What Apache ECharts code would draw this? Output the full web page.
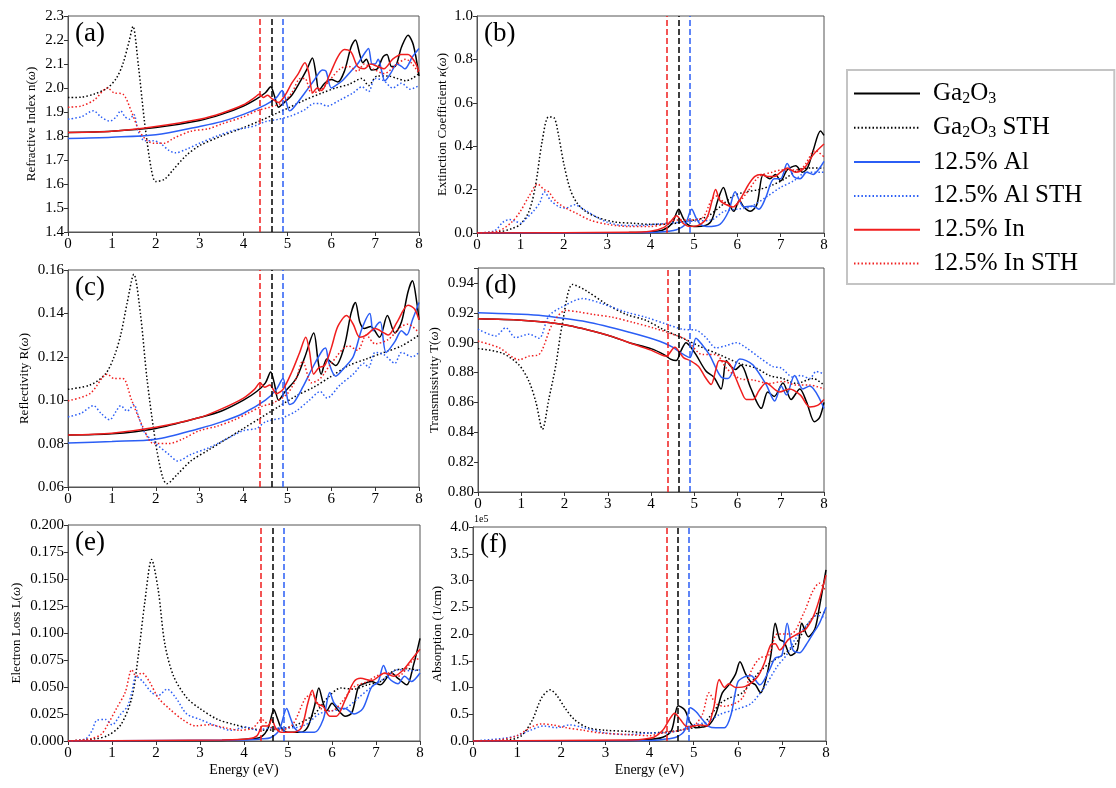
<!DOCTYPE html>
<html>
<head>
<meta charset="utf-8">
<script src="https://cdn.jsdelivr.net/npm/echarts@6/dist/echarts.min.js"></script>
<style>
  html, body { margin: 0; padding: 0; background: #fff; }
  #main { width: 1116px; height: 788px; }
</style>
</head>
<body>
<div id="main"></div>
<script>
// series names, in drawing order (red ends up on top)
var names = ['Ga2O3', 'Ga2O3 STH', '12.5% Al', '12.5% Al STH', '12.5% In', '12.5% In STH'];
var colors = ['#000000', '#000000', '#2b5ef5', '#2b5ef5', '#f01e1e', '#f01e1e'];
var dotted = [false, true, false, true, false, true];

// band gap markers (eV): In, Ga2O3, Al
var gapE = [4.38, 4.65, 4.9];
var gapColors = ['#f01e1e', '#000000', '#2b5ef5'];

// axis ticks
var xTicks = [0, 8, 1];
var yMin = [1.4, 0, 0.06, 0.80, 0, 0];
var yMax = [2.3, 1.0, 0.16, 0.95, 0.2, 4.0];
var yStep = [0.1, 0.2, 0.02, 0.02, 0.025, 0.5];
var yDigits = [1, 1, 2, 2, 3, 1];

// (a) refractive index n
var n_Ga = [[0,1.815],[1,1.82],[2,1.835],[3,1.865],[3.5,1.89],[4,1.925],[4.3,1.955],[4.5,1.98],[4.62,2.005],[4.7,1.97],[4.8,1.92],[4.9,1.935],[5.1,1.97],[5.3,2.03],[5.45,2.08],[5.57,2.125],[5.65,2.06],[5.72,1.99],[5.85,2.02],[6.0,2.035],[6.15,2.025],[6.3,2.07],[6.45,2.17],[6.55,2.2],[6.65,2.14],[6.72,2.105],[6.8,2.12],[6.92,2.075],[7.05,2.08],[7.18,2.13],[7.27,2.14],[7.37,2.09],[7.45,2.09],[7.6,2.17],[7.75,2.22],[7.87,2.18],[8,2.05]];
var n_GaSTH = [[0,1.96],[0.3,1.962],[0.6,1.975],[0.9,2.0],[1.1,2.04],[1.25,2.1],[1.4,2.2],[1.48,2.257],[1.6,2.1],[1.75,1.85],[1.9,1.66],[2.0,1.61],[2.2,1.62],[2.4,1.66],[2.7,1.72],[3.0,1.76],[3.5,1.8],[4.0,1.835],[4.4,1.865],[4.7,1.89],[5.0,1.915],[5.4,1.95],[5.8,1.98],[6.1,2.0],[6.4,2.015],[6.7,2.04],[6.85,2.01],[7.05,2.05],[7.3,2.05],[7.5,2.04],[7.7,2.03],[7.85,2.04],[8,2.06]];
var n_Al = [[0,1.79],[1,1.795],[2,1.805],[3,1.84],[3.5,1.86],[4,1.89],[4.5,1.93],[4.75,1.96],[4.88,1.99],[4.95,1.96],[5.05,1.905],[5.15,1.92],[5.4,1.98],[5.6,2.03],[5.8,2.075],[5.88,2.07],[6.0,2.0],[6.1,2.01],[6.25,2.03],[6.45,2.07],[6.6,2.1],[6.78,2.15],[6.85,2.165],[6.93,2.1],[7.0,2.1],[7.07,2.12],[7.15,2.07],[7.22,2.03],[7.35,2.06],[7.5,2.1],[7.6,2.09],[7.68,2.08],[7.85,2.13],[8,2.165]];
var n_AlSTH = [[0,1.87],[0.3,1.88],[0.58,1.905],[0.75,1.88],[0.95,1.862],[1.1,1.88],[1.2,1.905],[1.3,1.88],[1.4,1.87],[1.5,1.89],[1.6,1.82],[1.75,1.78],[1.95,1.78],[2.1,1.77],[2.3,1.74],[2.45,1.73],[2.7,1.745],[3.0,1.77],[3.4,1.8],[3.8,1.825],[4.1,1.835],[4.3,1.845],[4.5,1.86],[4.8,1.87],[5.1,1.885],[5.4,1.91],[5.6,1.935],[5.75,1.935],[5.9,1.925],[6.2,1.95],[6.5,1.98],[6.7,2.005],[6.85,1.985],[7.0,2.04],[7.2,2.03],[7.4,2.0],[7.6,2.02],[7.8,1.995],[8,2.01]];
var n_In = [[0,1.815],[1,1.82],[2,1.84],[3,1.87],[3.5,1.895],[4,1.93],[4.25,1.96],[4.37,1.975],[4.45,1.96],[4.55,1.97],[4.65,1.955],[4.8,1.94],[4.95,1.97],[5.1,2.02],[5.25,2.06],[5.4,2.105],[5.48,2.07],[5.58,1.98],[5.68,2.0],[5.78,1.99],[5.95,2.05],[6.15,2.13],[6.3,2.16],[6.45,2.15],[6.6,2.09],[6.75,2.08],[6.9,2.1],[7.05,2.09],[7.2,2.08],[7.4,2.12],[7.6,2.14],[7.75,2.14],[7.9,2.11],[8,2.07]];
var n_InSTH = [[0,1.92],[0.3,1.925],[0.6,1.95],[0.9,2.0],[1.05,1.98],[1.25,1.975],[1.45,1.9],[1.6,1.83],[1.75,1.79],[1.95,1.77],[2.2,1.77],[2.4,1.79],[2.8,1.82],[3.2,1.83],[3.5,1.85],[4.0,1.88],[4.3,1.905],[4.6,1.92],[4.9,1.94],[5.1,1.98],[5.3,2.04],[5.4,2.04],[5.55,1.98],[5.75,1.99],[6.0,2.04],[6.2,2.08],[6.4,2.09],[6.6,2.07],[6.75,2.1],[6.95,2.08],[7.2,2.06],[7.5,2.1],[7.7,2.12],[7.85,2.1],[8,2.06]];

// (b) extinction coefficient k
var k_Ga = [[0,0],[3.5,0.002],[4.0,0.005],[4.3,0.015],[4.5,0.045],[4.65,0.11],[4.75,0.07],[4.85,0.04],[5.0,0.03],[5.2,0.032],[5.4,0.055],[5.55,0.15],[5.68,0.21],[5.8,0.14],[5.92,0.1],[6.05,0.15],[6.15,0.12],[6.3,0.1],[6.45,0.13],[6.6,0.27],[6.75,0.25],[6.88,0.27],[7.0,0.24],[7.15,0.29],[7.35,0.31],[7.5,0.28],[7.62,0.3],[7.75,0.38],[7.92,0.47],[8,0.45]];
var k_GaSTH = [[0,0],[0.5,0.005],[0.8,0.02],[1.0,0.04],[1.2,0.1],[1.35,0.22],[1.5,0.42],[1.65,0.535],[1.78,0.53],[1.88,0.45],[2.0,0.32],[2.15,0.2],[2.3,0.14],[2.5,0.1],[2.8,0.07],[3.2,0.05],[3.6,0.045],[4.0,0.04],[4.4,0.04],[4.7,0.05],[5.0,0.06],[5.3,0.075],[5.6,0.12],[5.9,0.17],[6.2,0.19],[6.5,0.2],[6.8,0.22],[7.1,0.25],[7.4,0.29],[7.7,0.3],[8,0.3]];
var k_Al = [[0,0],[4.0,0.002],[4.4,0.008],[4.6,0.015],[4.8,0.04],[4.95,0.11],[5.05,0.07],[5.15,0.04],[5.3,0.03],[5.6,0.04],[5.8,0.1],[5.95,0.19],[6.05,0.15],[6.15,0.12],[6.35,0.125],[6.5,0.11],[6.65,0.16],[6.85,0.25],[7.0,0.25],[7.15,0.32],[7.3,0.26],[7.45,0.25],[7.6,0.28],[7.75,0.27],[7.9,0.3],[8,0.33]];
var k_AlSTH = [[0,0],[0.4,0.01],[0.6,0.05],[0.75,0.062],[0.88,0.055],[1.0,0.045],[1.15,0.07],[1.3,0.1],[1.45,0.14],[1.55,0.19],[1.7,0.15],[1.9,0.12],[2.05,0.115],[2.25,0.13],[2.45,0.11],[2.7,0.08],[3.0,0.05],[3.4,0.035],[3.8,0.035],[4.1,0.04],[4.4,0.045],[4.7,0.05],[5.0,0.055],[5.4,0.06],[5.7,0.1],[6.0,0.11],[6.3,0.12],[6.7,0.17],[7.0,0.21],[7.3,0.24],[7.6,0.28],[8,0.28]];
var k_In = [[0,0],[3.5,0.003],[4.0,0.008],[4.3,0.025],[4.45,0.05],[4.6,0.08],[4.75,0.045],[4.9,0.03],[5.1,0.035],[5.3,0.07],[5.42,0.15],[5.5,0.2],[5.6,0.15],[5.75,0.13],[5.9,0.12],[6.05,0.15],[6.25,0.22],[6.4,0.26],[6.55,0.27],[6.7,0.26],[6.85,0.26],[7.0,0.28],[7.15,0.3],[7.35,0.28],[7.55,0.3],[7.75,0.36],[8,0.41]];
var k_InSTH = [[0,0],[0.5,0.01],[0.8,0.05],[1.0,0.1],[1.2,0.17],[1.4,0.225],[1.55,0.2],[1.65,0.19],[1.8,0.15],[2.0,0.12],[2.3,0.09],[2.6,0.06],[3.0,0.04],[3.5,0.03],[4.0,0.03],[4.3,0.04],[4.6,0.06],[4.9,0.06],[5.2,0.07],[5.4,0.15],[5.52,0.17],[5.7,0.14],[5.9,0.12],[6.2,0.18],[6.5,0.26],[6.8,0.28],[7.0,0.29],[7.2,0.29],[7.5,0.3],[7.8,0.38],[8,0.35]];

// (c) reflectivity R
var R_Ga = [[0,0.084],[1,0.0845],[2,0.087],[3,0.092],[3.5,0.095],[4,0.1],[4.3,0.104],[4.5,0.108],[4.62,0.113],[4.7,0.108],[4.8,0.1],[4.95,0.104],[5.2,0.11],[5.4,0.12],[5.6,0.131],[5.7,0.118],[5.77,0.112],[5.9,0.119],[6.1,0.116],[6.3,0.125],[6.45,0.14],[6.55,0.145],[6.65,0.136],[6.75,0.133],[6.9,0.134],[7.1,0.129],[7.28,0.139],[7.45,0.131],[7.6,0.136],[7.75,0.15],[7.85,0.155],[7.95,0.145],[8,0.137]];
var R_GaSTH = [[0,0.105],[0.5,0.107],[0.85,0.112],[1.05,0.12],[1.2,0.13],[1.35,0.145],[1.5,0.158],[1.65,0.14],[1.8,0.11],[2.0,0.08],[2.15,0.065],[2.25,0.0615],[2.5,0.066],[2.8,0.072],[3.2,0.077],[3.6,0.082],[4.0,0.087],[4.4,0.092],[4.8,0.097],[5.2,0.102],[5.6,0.106],[6.0,0.111],[6.4,0.116],[6.8,0.119],[7.2,0.122],[7.6,0.125],[8,0.13]];
var R_Al = [[0,0.0803],[1,0.081],[2,0.082],[3,0.087],[3.5,0.09],[4,0.094],[4.5,0.1],[4.75,0.105],[4.9,0.11],[4.97,0.104],[5.05,0.098],[5.15,0.099],[5.35,0.106],[5.6,0.116],[5.8,0.123],[5.87,0.124],[5.95,0.117],[6.1,0.111],[6.3,0.115],[6.5,0.12],[6.7,0.133],[6.88,0.14],[6.95,0.132],[7.05,0.135],[7.12,0.136],[7.25,0.122],[7.45,0.127],[7.6,0.132],[7.72,0.13],[7.85,0.137],[8,0.145]];
var R_AlSTH = [[0,0.0923],[0.3,0.094],[0.58,0.0975],[0.75,0.094],[0.95,0.091],[1.1,0.095],[1.2,0.0975],[1.35,0.095],[1.5,0.098],[1.6,0.093],[1.75,0.085],[2.0,0.08],[2.3,0.075],[2.5,0.072],[2.8,0.075],[3.2,0.078],[3.6,0.082],[4.0,0.086],[4.3,0.087],[4.5,0.09],[4.9,0.092],[5.2,0.095],[5.5,0.1],[5.75,0.104],[5.9,0.101],[6.2,0.107],[6.5,0.112],[6.75,0.117],[6.85,0.115],[7.0,0.122],[7.2,0.121],[7.45,0.117],[7.6,0.122],[7.85,0.12],[8,0.122]];
var R_In = [[0,0.084],[1,0.0848],[2,0.0875],[3,0.092],[3.5,0.096],[4,0.101],[4.25,0.105],[4.38,0.108],[4.48,0.106],[4.6,0.107],[4.75,0.103],[4.9,0.105],[5.1,0.113],[5.28,0.122],[5.42,0.129],[5.5,0.123],[5.6,0.112],[5.72,0.115],[5.85,0.116],[6.0,0.124],[6.15,0.134],[6.35,0.139],[6.5,0.135],[6.65,0.129],[6.8,0.13],[7.0,0.133],[7.2,0.131],[7.3,0.13],[7.5,0.136],[7.75,0.1438],[7.9,0.142],[8,0.137]];
var R_InSTH = [[0,0.0997],[0.5,0.103],[0.9,0.112],[1.05,0.11],[1.25,0.11],[1.45,0.1],[1.7,0.088],[1.95,0.08],[2.3,0.08],[2.6,0.082],[3.0,0.086],[3.4,0.088],[3.8,0.091],[4.1,0.094],[4.4,0.097],[4.7,0.099],[5.0,0.103],[5.2,0.11],[5.35,0.118],[5.55,0.108],[5.75,0.11],[6.0,0.117],[6.4,0.125],[6.6,0.123],[6.8,0.13],[7.0,0.126],[7.3,0.128],[7.6,0.134],[7.75,0.135],[8,0.131]];

// (d) transmissivity T
var T_Ga = [[0,0.916],[1,0.915],[2,0.912],[3,0.905],[3.5,0.9],[4,0.896],[4.3,0.892],[4.45,0.889],[4.58,0.888],[4.7,0.895],[4.81,0.9],[4.92,0.897],[5.04,0.892],[5.27,0.881],[5.45,0.877],[5.62,0.869],[5.74,0.888],[5.85,0.884],[5.95,0.882],[6.08,0.885],[6.3,0.87],[6.55,0.856],[6.7,0.867],[6.85,0.864],[7.05,0.873],[7.24,0.862],[7.44,0.869],[7.6,0.86],[7.78,0.847],[7.9,0.85],[8,0.86]];
var T_GaSTH = [[0,0.896],[0.56,0.893],[0.95,0.885],[1.18,0.874],[1.34,0.86],[1.49,0.842],[1.64,0.8625],[1.8,0.885],[1.95,0.9125],[2.19,0.939],[2.49,0.935],[2.96,0.926],[3.42,0.919],[3.88,0.915],[4.27,0.909],[4.73,0.903],[5.2,0.8966],[5.58,0.892],[6.05,0.886],[6.43,0.883],[6.74,0.878],[7.05,0.876],[7.36,0.8727],[7.75,0.876],[8,0.8716]];
var T_Al = [[0,0.92],[1,0.919],[1.5,0.918],[2.5,0.914],[3.5,0.907],[4.2,0.901],[4.5,0.897],[4.7,0.893],[4.9,0.89],[5.04,0.903],[5.2,0.898],[5.35,0.892],[5.62,0.877],[5.78,0.876],[6.05,0.889],[6.2,0.888],[6.36,0.885],[6.66,0.872],[6.86,0.861],[7.01,0.871],[7.13,0.865],[7.32,0.878],[7.51,0.869],[7.67,0.871],[8,0.856]];
var T_AlSTH = [[0,0.909],[0.41,0.9045],[0.64,0.91],[0.87,0.9034],[1.18,0.9057],[1.41,0.903],[1.64,0.918],[1.95,0.924],[2.42,0.9295],[2.88,0.926],[3.42,0.9205],[3.88,0.917],[4.35,0.9125],[4.73,0.909],[5.04,0.9084],[5.27,0.9034],[5.5,0.8966],[5.74,0.898],[5.97,0.9],[6.2,0.8966],[6.51,0.89],[6.82,0.884],[7.01,0.883],[7.28,0.877],[7.47,0.878],[7.67,0.876],[7.82,0.8807],[8,0.879]];
var T_In = [[0,0.916],[1,0.915],[2,0.912],[3,0.905],[3.5,0.9],[4,0.895],[4.35,0.891],[4.55,0.897],[4.75,0.89],[4.9,0.888],[5.1,0.884],[5.25,0.877],[5.39,0.872],[5.5,0.882],[5.58,0.888],[5.81,0.886],[5.95,0.877],[6.08,0.868],[6.2,0.862],[6.36,0.862],[6.5,0.868],[6.66,0.873],[6.97,0.867],[7.2,0.869],[7.45,0.865],[7.67,0.857],[7.85,0.858],[8,0.862]];
var T_InSTH = [[0,0.901],[0.49,0.8966],[0.95,0.8886],[1.18,0.891],[1.41,0.892],[1.72,0.9125],[2.03,0.9216],[2.34,0.9205],[2.65,0.919],[3.11,0.917],[3.58,0.9136],[4.04,0.91],[4.5,0.9057],[4.81,0.902],[5.2,0.892],[5.5,0.892],[5.74,0.883],[6.05,0.876],[6.36,0.875],[6.74,0.8727],[7.05,0.874],[7.36,0.8716],[7.67,0.8716],[8,0.869]];

// (e) electron loss L
var L_Ga = [[0,0],[3.5,0.0005],[4.2,0.002],[4.4,0.004],[4.55,0.012],[4.68,0.029],[4.75,0.022],[4.85,0.012],[5.0,0.008],[5.3,0.008],[5.45,0.013],[5.6,0.032],[5.7,0.049],[5.8,0.035],[5.88,0.028],[6.0,0.035],[6.15,0.028],[6.3,0.023],[6.45,0.026],[6.6,0.05],[6.72,0.053],[6.9,0.055],[7.1,0.052],[7.35,0.063],[7.5,0.058],[7.7,0.052],[7.85,0.07],[8,0.095]];
var L_GaSTH = [[0,0],[0.6,0.002],[0.9,0.005],[1.2,0.015],[1.45,0.04],[1.6,0.08],[1.75,0.13],[1.9,0.168],[2.05,0.14],[2.2,0.09],[2.4,0.06],[2.7,0.04],[3.0,0.03],[3.4,0.02],[3.8,0.015],[4.1,0.012],[4.5,0.01],[4.9,0.012],[5.2,0.015],[5.6,0.025],[5.9,0.04],[6.2,0.049],[6.5,0.048],[6.8,0.052],[7.1,0.055],[7.4,0.065],[7.7,0.067],[8,0.065]];
var L_Al = [[0,0],[4.0,0.001],[4.4,0.002],[4.6,0.003],[4.8,0.01],[4.97,0.03],[5.05,0.022],[5.15,0.012],[5.3,0.008],[5.6,0.008],[5.8,0.02],[5.95,0.045],[6.05,0.035],[6.2,0.03],[6.3,0.03],[6.5,0.025],[6.7,0.03],[6.9,0.05],[7.05,0.055],[7.17,0.07],[7.3,0.058],[7.5,0.053],[7.65,0.06],[7.8,0.055],[8,0.063]];
var L_AlSTH = [[0,0],[0.4,0.002],[0.55,0.01],[0.65,0.019],[0.85,0.02],[1.0,0.015],[1.2,0.025],[1.35,0.032],[1.45,0.045],[1.55,0.06],[1.7,0.055],[1.9,0.045],[2.05,0.042],[2.25,0.048],[2.45,0.04],[2.7,0.025],[3.0,0.02],[3.3,0.015],[3.7,0.01],[4.05,0.013],[4.3,0.01],[4.6,0.012],[5.0,0.012],[5.4,0.015],[5.7,0.025],[6.0,0.028],[6.3,0.03],[6.6,0.04],[6.9,0.05],[7.2,0.058],[7.5,0.066],[7.8,0.065],[8,0.066]];
var L_In = [[0,0],[3.5,0.001],[4.1,0.002],[4.3,0.005],[4.42,0.014],[4.55,0.014],[4.63,0.02],[4.72,0.012],[4.85,0.008],[5.1,0.008],[5.3,0.012],[5.45,0.035],[5.55,0.047],[5.65,0.035],[5.8,0.032],[5.95,0.023],[6.1,0.023],[6.3,0.038],[6.5,0.055],[6.65,0.058],[6.9,0.056],[7.2,0.063],[7.4,0.06],[7.6,0.065],[7.8,0.075],[8,0.085]];
var L_InSTH = [[0,0],[0.5,0.002],[0.75,0.006],[0.9,0.015],[1.1,0.03],[1.3,0.045],[1.45,0.066],[1.55,0.06],[1.68,0.063],[1.85,0.055],[2.05,0.04],[2.3,0.03],[2.6,0.02],[2.9,0.014],[3.2,0.015],[3.6,0.012],[3.9,0.01],[4.2,0.012],[4.4,0.02],[4.6,0.013],[4.8,0.01],[5.1,0.015],[5.4,0.04],[5.55,0.043],[5.75,0.03],[6.0,0.028],[6.2,0.035],[6.5,0.05],[6.8,0.055],[7.0,0.06],[7.3,0.063],[7.5,0.06],[7.85,0.075],[8,0.076]];

// (f) absorption, in units of 1e5 /cm
var A_Ga = [[0,0],[3.5,0.01],[4.0,0.03],[4.3,0.07],[4.5,0.2],[4.65,0.66],[4.8,0.58],[4.92,0.35],[5.05,0.25],[5.2,0.26],[5.35,0.3],[5.5,0.5],[5.65,0.9],[5.8,1.05],[5.95,1.25],[6.05,1.48],[6.18,1.25],[6.3,1.1],[6.4,1.05],[6.52,0.9],[6.62,1.1],[6.75,1.6],[6.85,2.2],[6.95,1.9],[7.05,1.85],[7.2,1.6],[7.35,1.7],[7.45,2.2],[7.6,1.95],[7.75,2.1],[7.85,2.5],[8,3.2]];
var A_GaSTH = [[0,0],[0.8,0.02],[1.1,0.1],[1.35,0.4],[1.55,0.8],[1.75,0.956],[1.9,0.85],[2.1,0.6],[2.3,0.4],[2.6,0.25],[3.0,0.2],[3.5,0.18],[4.0,0.15],[4.4,0.17],[4.7,0.2],[5.0,0.25],[5.2,0.3],[5.6,0.7],[5.8,0.8],[6.1,0.9],[6.5,1.3],[6.8,1.5],[7.0,1.6],[7.3,1.8],[7.6,2.2],[7.85,2.4],[8,2.4]];
var A_Al = [[0,0],[4.0,0.01],[4.3,0.03],[4.6,0.07],[4.8,0.2],[4.92,0.62],[5.05,0.55],[5.2,0.4],[5.35,0.27],[5.5,0.25],[5.7,0.25],[5.85,0.5],[6.0,1.1],[6.15,1.2],[6.3,1.22],[6.5,1.05],[6.7,1.3],[6.85,1.55],[7.0,1.6],[7.12,2.2],[7.25,1.7],[7.4,1.65],[7.55,1.8],[7.7,2.0],[7.85,2.2],[8,2.5]];
var A_AlSTH = [[0,0],[0.7,0.05],[1.0,0.1],[1.3,0.2],[1.6,0.28],[1.9,0.25],[2.2,0.3],[2.5,0.25],[3.0,0.15],[3.5,0.12],[4.0,0.15],[4.3,0.15],[4.7,0.2],[5.0,0.3],[5.3,0.35],[5.6,0.5],[6.0,0.6],[6.3,0.7],[6.6,1.0],[6.9,1.4],[7.1,1.6],[7.3,1.9],[7.6,2.2],[7.8,2.35],[8,2.3]];
var A_In = [[0,0],[3.5,0.02],[3.8,0.03],[4.1,0.07],[4.3,0.2],[4.45,0.4],[4.57,0.52],[4.7,0.4],[4.85,0.27],[5.0,0.28],[5.15,0.3],[5.3,0.28],[5.45,0.6],[5.58,1.15],[5.7,1.0],[5.8,1.07],[5.95,1.0],[6.2,1.03],[6.45,1.2],[6.6,1.45],[6.75,1.8],[6.85,1.82],[6.95,1.7],[7.15,1.9],[7.35,2.0],[7.55,2.1],[7.75,2.4],[8,3.1]];
var A_InSTH = [[0,0],[0.6,0.02],[1.0,0.1],[1.3,0.25],[1.55,0.32],[1.8,0.3],[2.1,0.25],[2.5,0.2],[2.9,0.15],[3.5,0.12],[4.0,0.1],[4.3,0.15],[4.7,0.2],[5.0,0.28],[5.2,0.5],[5.35,0.9],[5.5,0.7],[5.7,0.65],[6.1,0.8],[6.3,1.3],[6.5,1.55],[6.7,1.6],[6.9,2.0],[7.2,2.0],[7.5,2.4],[7.7,2.8],[7.85,2.95],[8,2.8]];

var panels = [
    [n_Ga, n_GaSTH, n_Al, n_AlSTH, n_In, n_InSTH],
    [k_Ga, k_GaSTH, k_Al, k_AlSTH, k_In, k_InSTH],
    [R_Ga, R_GaSTH, R_Al, R_AlSTH, R_In, R_InSTH],
    [T_Ga, T_GaSTH, T_Al, T_AlSTH, T_In, T_InSTH],
    [L_Ga, L_GaSTH, L_Al, L_AlSTH, L_In, L_InSTH],
    [A_Ga, A_GaSTH, A_Al, A_AlSTH, A_In, A_InSTH]
];
var yNames = [
    'Refractive Index n({i|ω})',
    'Extinction Coefficient {i|κ}({i|ω})',
    'Reflectivity R({i|ω})',
    'Transmissivity T({i|ω})',
    'Electron Loss L({i|ω})',
    'Absorption (1/cm)'
];
var letters = ['(a)', '(b)', '(c)', '(d)', '(e)', '(f)'];

var FONT = '"Liberation Serif", "Times New Roman", serif';

var grids = [
    {left: 68, top: 16, width: 351, height: 216},
    {left: 477, top: 16, width: 347, height: 217},
    {left: 68, top: 270, width: 351, height: 217},
    {left: 478, top: 268, width: 346, height: 224},
    {left: 68, top: 525, width: 352, height: 216},
    {left: 473, top: 527, width: 353, height: 214}
];
var nameGaps = [30, 28, 37, 37, 45, 29];

var myChart = echarts.init(document.getElementById('main'));

var xAxes = [], yAxes = [], series = [], graphics = [];

grids.forEach(function (g, i) {
    g.show = true;
    g.borderColor = '#555';
    g.borderWidth = 1;
    g.containLabel = false;

    xAxes.push({
        gridIndex: i,
        type: 'value',
        min: xTicks[0], max: xTicks[1], interval: xTicks[2],
        name: i >= 4 ? 'Energy (eV)' : '',
        nameLocation: 'middle',
        nameGap: 22,
        nameTextStyle: {fontFamily: FONT, fontSize: 14, color: '#000'},
        axisLine: {show: true, lineStyle: {color: '#555', width: 1}},
        axisTick: {show: true, length: 4, lineStyle: {color: '#333'}},
        axisLabel: {fontFamily: FONT, fontSize: 15, color: '#000', margin: 5},
        splitLine: {show: false}
    });

    yAxes.push({
        gridIndex: i,
        type: 'value',
        min: yMin[i], max: yMax[i], interval: yStep[i],
        name: yNames[i],
        nameLocation: 'middle',
        nameGap: nameGaps[i],
        nameTextStyle: {
            fontFamily: FONT, fontSize: 13, color: '#000',
            rich: {i: {fontFamily: FONT, fontSize: 13, fontStyle: 'italic', color: '#000'}}
        },
        axisLine: {show: true, lineStyle: {color: '#555', width: 1}},
        axisTick: {show: true, length: 4, lineStyle: {color: '#333'}},
        axisLabel: {
            fontFamily: FONT, fontSize: 15, color: '#000', margin: 4,
            formatter: function (v) {
                // panel (d) stops at 0.95 but its last labelled tick is 0.94
                if (i === 3 && v > 0.945) return '';
                return v.toFixed(yDigits[i]);
            }
        },
        splitLine: {show: false}
    });

    panels[i].forEach(function (data, j) {
        series.push({
            name: names[j],
            type: 'line',
            xAxisIndex: i,
            yAxisIndex: i,
            data: data,
            symbol: 'none',
            showSymbol: false,
            smooth: 0.3,
            animation: false,
            lineStyle: {color: colors[j], width: 1.5, type: dotted[j] ? [1.5, 2.2] : 'solid'},
            itemStyle: {color: colors[j]}
        });
    });

    // dashed band gap markers
    series.push({
        name: 'gap',
        type: 'line',
        xAxisIndex: i,
        yAxisIndex: i,
        data: [],
        animation: false,
        markLine: {
            silent: true,
            animation: false,
            symbol: ['none', 'none'],
            label: {show: false},
            data: gapE.map(function (e, k) {
                return {xAxis: e, lineStyle: {color: gapColors[k], type: [6, 3], width: 1.5}};
            })
        }
    });

    graphics.push({
        type: 'text',
        left: g.left + 7,
        top: g.top + 4,
        style: {text: letters[i], font: '27px ' + FONT, fill: '#000'}
    });
});

graphics.push({
    type: 'text',
    left: 474,
    top: 514,
    style: {text: '1e5', font: '10px ' + FONT, fill: '#000'}
});

var legendRich = {
    g: {width: 8, fontSize: 25, fontFamily: FONT, lineHeight: 26},
    n: {fontSize: 25, fontFamily: FONT, color: '#000', lineHeight: 26},
    s: {fontSize: 16, fontFamily: FONT, color: '#000', lineHeight: 16, verticalAlign: 'bottom'}
};

var option = {
    backgroundColor: '#fff',
    animation: false,
    grid: grids,
    xAxis: xAxes,
    yAxis: yAxes,
    series: series,
    legend: {
        data: names,
        orient: 'vertical',
        left: 847,
        top: 70,
        padding: [11, 32, 8, 6],
        itemWidth: 66,
        itemHeight: 3,
        itemGap: 8.8,
        borderColor: '#c4c4c4',
        borderWidth: 2,
        selectedMode: false,
        itemStyle: {opacity: 0},
        lineStyle: {width: 2},
        textStyle: {fontFamily: FONT, fontSize: 25, color: '#000', rich: legendRich},
        formatter: function (name) {
            if (name === 'Ga2O3') return '{g| }{n|Ga}{s|2}{n|O}{s|3}';
            if (name === 'Ga2O3 STH') return '{g| }{n|Ga}{s|2}{n|O}{s|3}{n| STH}';
            return '{g| }{n|' + name + '}';
        }
    },
    graphic: graphics
};

myChart.setOption(option);
</script>
</body>
</html>
